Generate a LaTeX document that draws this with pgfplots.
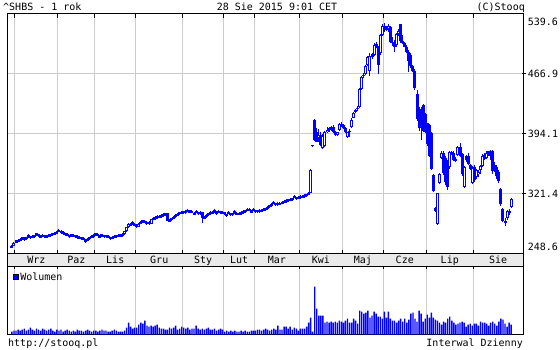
\documentclass[border=0pt]{standalone}
\usepackage{fontspec}
\setmainfont{DejaVu Sans Mono}
\usepackage{pgfplots}
\usepackage{pgfplotstable}
\pgfplotsset{compat=1.18}
\definecolor{gridgray}{RGB}{204,204,204}
\definecolor{stripgray}{RGB}{234,234,234}
\definecolor{cblue}{RGB}{0,0,255}
\newcommand{\ft}{\fontsize{10}{12}\selectfont}

\pgfplotstableread{
i o h l c
0 256.2 259.5 255.6 258.7
1 258.7 263.2 258.2 262.5
2 262.5 265.8 262.0 265.0
3 263.5 266.8 262.9 266.0
4 264.7 268.0 264.1 267.2
5 269.0 269.7 265.8 266.5
6 265.5 268.8 264.9 268.0
7 266.5 269.8 265.9 269.0
8 271.8 272.4 268.6 269.3
9 267.5 270.8 266.9 270.0
10 268.3 271.6 267.7 270.8
11 268.8 272.0 268.2 271.3
12 273.5 274.1 270.4 271.0
13 272.7 273.3 269.6 270.2
14 268.1 271.3 267.5 270.6
15 272.0 272.6 268.8 269.5
16 271.4 272.0 268.2 268.9
17 268.3 271.5 267.7 270.8
18 269.5 272.8 268.9 272.0
19 270.0 273.2 269.4 272.5
20 271.2 274.4 270.6 273.7
21 272.0 275.2 271.4 274.5
22 273.0 276.3 272.4 275.5
23 278.2 278.8 275.0 275.7
24 276.5 277.1 273.4 274.0
25 275.3 275.9 272.2 272.8
26 274.0 274.6 270.9 271.5
27 273.3 273.9 270.2 270.8
28 268.7 271.9 268.1 271.2
29 272.5 273.1 269.4 270.0
30 272.0 272.6 268.9 269.5
31 271.4 272.0 268.2 268.9
32 270.5 271.1 267.3 268.0
33 269.5 270.1 266.3 267.0
34 268.9 269.5 265.8 266.4
35 268.3 268.9 265.1 265.8
36 263.1 266.3 262.5 265.6
37 264.5 267.7 263.9 267.0
38 266.4 269.6 265.8 268.9
39 268.0 271.2 267.4 270.5
40 269.1 272.4 268.5 271.6
41 273.5 274.1 270.4 271.0
42 273.0 273.6 269.9 270.5
43 268.0 271.2 267.4 270.5
44 272.3 272.9 269.2 269.8
45 271.5 272.1 268.4 269.0
46 271.4 272.0 268.3 268.9
47 271.0 271.6 267.9 268.5
48 266.5 269.7 265.9 269.0
49 267.1 270.3 266.5 269.6
50 268.0 271.2 267.4 270.5
51 268.7 271.9 268.1 271.2
52 269.5 272.7 268.9 272.0
53 269.8 273.0 269.2 272.3
54 270.3 273.5 269.7 272.8
55 272.8 276.7 272.2 276.0
56 276.0 281.8 275.5 281.0
57 281.0 285.8 280.4 285.0
58 283.0 286.3 282.4 285.5
59 287.5 288.1 284.3 285.0
60 285.5 286.1 282.4 283.0
61 284.2 284.8 280.0 281.7
62 281.7 286.2 281.1 285.5
63 285.3 288.6 284.7 287.8
64 289.5 290.1 286.4 287.0
65 289.1 289.7 285.9 286.6
66 288.0 288.6 284.2 285.5
67 287.5 288.1 284.3 285.0
68 285.0 291.3 284.4 290.5
69 290.0 293.3 289.4 292.5
70 291.0 294.2 290.4 293.5
71 292.2 295.5 291.6 294.7
72 292.7 296.0 292.1 295.2
73 293.4 296.7 292.8 295.9
74 294.5 297.8 293.9 297.0
75 295.5 298.8 294.9 298.0
76 298.0 298.6 288.2 289.0
77 288.0 291.2 287.4 290.5
78 289.4 292.6 288.8 291.9
79 291.5 294.8 290.9 294.0
80 293.4 296.7 292.8 295.9
81 295.0 298.3 294.4 297.5
82 296.5 299.8 295.9 299.0
83 297.4 300.7 296.8 299.9
84 298.0 301.3 297.4 300.5
85 298.2 301.5 297.6 300.7
86 302.5 303.1 299.4 300.0
87 301.4 302.0 298.2 298.9
88 301.2 301.8 298.0 298.7
89 296.0 299.2 295.4 298.5
90 301.2 301.8 298.0 298.7
91 296.5 299.7 295.9 299.0
92 297.0 300.3 296.4 299.5
93 299.5 300.1 286.5 292.5
94 291.5 294.8 290.9 294.0
95 293.4 296.7 292.8 295.9
96 295.5 298.8 294.9 298.0
97 297.0 300.3 296.4 299.5
98 297.3 300.6 296.7 299.8
99 302.0 302.6 298.9 299.5
100 297.0 300.2 296.4 299.5
101 301.3 301.9 298.2 298.8
102 300.5 301.1 297.4 298.0
103 299.6 300.2 296.5 297.1
104 299.0 299.6 295.8 296.5
105 294.5 297.7 293.9 297.0
106 299.6 300.2 296.5 297.1
107 295.3 298.5 294.7 297.8
108 295.5 298.7 294.9 298.0
109 300.8 301.4 297.7 298.3
110 296.0 299.2 295.4 298.5
111 296.2 299.4 295.6 298.7
112 297.0 300.2 296.4 299.5
113 298.3 301.5 297.7 300.8
114 299.1 302.4 298.5 301.6
115 303.7 304.3 300.6 301.2
116 303.3 303.9 300.2 300.8
117 298.5 301.7 297.9 301.0
118 303.6 304.2 300.5 301.1
119 299.0 302.2 298.4 301.5
120 299.3 302.5 298.7 301.8
121 299.5 302.7 298.9 302.0
122 300.0 303.2 299.4 302.5
123 300.8 304.0 300.2 303.3
124 301.5 304.7 300.9 304.0
125 303.0 306.3 302.4 305.5
126 305.0 308.3 304.4 307.5
127 306.7 310.0 306.1 309.2
128 312.0 312.6 308.9 309.5
129 307.5 310.7 306.9 310.0
130 308.0 311.2 307.4 310.5
131 308.3 311.5 307.7 310.8
132 309.5 312.8 308.9 312.0
133 310.8 314.0 310.2 313.3
134 311.6 314.9 311.0 314.1
135 312.3 315.6 311.7 314.8
136 313.0 316.3 312.4 315.5
137 313.6 316.9 313.0 316.1
138 319.0 319.6 315.9 316.5
139 314.8 318.0 314.2 317.3
140 315.6 318.9 315.0 318.1
141 316.3 319.6 315.7 318.8
142 317.0 320.3 316.4 319.5
143 317.6 320.9 317.0 320.1
144 318.5 321.8 317.9 321.0
145 320.4 323.7 319.8 322.9
146 322.9 351.2 322.3 350.5
147 380.4 381.0 378.5 379.2
148 411.0 412.0 386.0 387.0
149 396.0 401.0 384.0 385.0
150 389.0 400.0 385.0 393.0
151 393.0 396.0 379.0 381.0
152 377.0 394.0 376.0 392.0
153 379.0 398.0 378.0 396.0
154 396.0 402.0 395.0 399.0
155 399.0 402.0 397.0 401.0
156 400.0 404.0 398.0 402.0
157 402.0 405.0 395.0 396.0
158 396.0 398.0 392.0 393.0
159 393.0 397.0 392.0 396.0
160 399.0 408.0 398.0 406.0
161 406.0 409.0 403.0 404.5
162 405.0 406.0 400.0 401.0
163 401.0 402.0 395.0 396.0
164 390.0 397.0 389.0 396.0
165 396.0 400.0 391.0 398.0
166 402.0 413.0 401.0 411.0
167 414.0 421.0 413.0 420.0
168 421.0 425.0 419.0 423.0
169 424.0 428.0 422.0 426.0
170 427.0 450.0 426.0 449.0
171 449.0 464.0 448.0 463.0
172 464.0 468.0 462.0 466.0
173 467.0 478.0 466.0 477.0
174 478.0 489.0 477.0 487.0
175 471.0 492.0 465.0 489.0
176 488.0 492.0 485.0 490.5
177 490.0 504.0 489.0 502.0
178 503.5 506.0 498.0 500.0
179 500.0 501.0 467.0 478.0
180 492.0 515.0 490.0 514.0
181 514.0 527.0 513.0 525.0
182 525.0 529.0 518.0 521.0
183 520.5 525.0 519.0 522.0
184 522.0 527.0 518.0 525.0
185 524.0 525.0 504.0 506.0
186 506.0 512.0 501.0 504.0
187 504.0 508.0 494.0 499.0
188 502.0 517.0 500.0 515.0
189 515.0 521.0 513.0 519.0
190 527.0 528.0 505.0 507.0
191 507.0 514.0 503.0 505.0
192 505.0 506.0 499.0 500.0
193 500.0 502.0 492.0 494.0
194 494.0 496.0 469.0 483.0
195 490.0 492.0 474.0 477.0
196 477.0 478.0 469.0 471.0
197 471.0 473.0 448.0 450.0
198 443.0 447.0 410.0 412.0
199 425.0 427.0 398.0 401.0
200 420.0 427.0 387.0 405.0
201 429.0 430.0 396.0 398.0
202 418.0 420.0 395.0 397.0
203 407.0 408.0 380.0 382.0
204 405.0 406.0 366.0 368.0
205 395.0 396.0 350.0 352.0
206 344.0 345.0 324.0 325.0
207 304.0 305.0 300.0 301.0
208 285.0 323.0 284.0 322.0
209 335.0 347.0 333.0 346.0
210 365.0 373.0 364.0 371.0
211 371.0 373.0 344.0 347.0
212 365.0 367.0 332.0 336.0
213 360.0 362.0 326.0 330.0
214 354.0 373.0 352.0 372.0
215 372.0 374.0 369.0 370.0
216 371.0 373.0 361.0 363.0
217 364.0 366.0 360.0 361.0
218 369.0 379.0 368.0 378.0
219 378.0 383.0 366.0 368.0
220 370.0 371.0 343.0 345.0
221 330.0 355.0 329.0 354.0
222 367.0 369.0 360.0 362.0
223 368.0 371.0 356.0 358.0
224 356.0 358.0 350.0 352.0
225 335.0 355.0 334.0 353.0
226 354.0 356.0 336.0 338.0
227 342.0 352.0 340.0 350.0
228 345.0 351.0 342.0 348.0
229 350.0 357.0 346.0 355.0
230 355.0 370.0 354.0 368.0
231 369.0 371.0 362.0 364.0
232 365.0 373.0 364.0 371.0
233 371.0 374.0 368.0 373.0
234 373.0 375.0 363.0 368.0
235 374.0 375.0 346.0 349.0
236 357.0 360.0 348.0 350.0
237 354.0 356.0 340.0 343.0
238 348.0 350.0 335.0 337.0
239 328.0 329.0 307.0 309.0
240 303.0 304.0 287.0 289.0
241 289.0 292.0 283.0 286.0
242 292.0 302.0 290.0 301.0
243 301.0 303.0 296.0 298.0
244 305.0 316.0 304.0 315.0
}\price

\pgfplotstableread[row sep=\\]{
v\\
3\\4\\
4\\5\\4\\5\\6\\4\\5\\7\\5\\4\\6\\5\\4\\6\\5\\4\\5\\6\\4\\3\\5\\
4\\5\\3\\4\\5\\4\\3\\4\\3\\5\\4\\4\\3\\4\\5\\4\\3\\4\\
4\\3\\4\\5\\4\\4\\3\\3\\4\\5\\4\\3\\3\\3\\4\\7\\12\\8\\6\\7\\
7\\10\\12\\11\\14\\9\\8\\9\\8\\9\\10\\7\\6\\6\\5\\5\\7\\6\\7\\9\\5\\6\\8\\
7\\6\\7\\5\\6\\6\\9\\6\\5\\6\\5\\6\\7\\5\\5\\6\\4\\5\\6\\5\\
3\\4\\3\\4\\3\\4\\3\\3\\4\\3\\4\\3\\3\\4\\4\\
4\\5\\5\\4\\5\\6\\5\\4\\5\\6\\5\\9\\5\\5\\8\\8\\6\\8\\5\\7\\6\\4\\
6\\6\\6\\8\\12\\17\\3\\48\\26\\19\\19\\19\\12\\13\\12\\13\\12\\13\\12\\14\\13\\
12\\14\\16\\12\\12\\16\\14\\11\\24\\23\\21\\22\\24\\17\\19\\23\\21\\18\\18\\16\\
23\\17\\23\\16\\14\\14\\12\\14\\16\\13\\16\\12\\15\\21\\22\\16\\13\\24\\21\\13\\16\\
20\\17\\22\\17\\15\\14\\12\\10\\13\\12\\16\\18\\14\\12\\10\\11\\12\\13\\12\\8\\10\\11\\9\\
11\\11\\9\\13\\12\\12\\11\\9\\12\\13\\11\\9\\13\\16\\15\\11\\8\\12\\10\\
}\volume

\begin{document}
\begin{tikzpicture}
\useasboundingbox (0,0) rectangle (560pt,350pt);
\fill[white] (0,0) rectangle (560pt,350pt);
% month strip
\draw[line width=1pt, fill=stripgray] (7.5pt,83.5pt) rectangle (523pt,96pt);

\pgfplotsset{
  common/.style={
    scale only axis, anchor=south west, width=515.5pt,
    xmin=-2.165, xmax=249.79,
    axis line style={line width=1pt, black},
    xtick={1.5,22.5,40.5,60.5,83.5,103.5,118.5,140.5,161.5,181.5,202.5,225.5},
    xticklabels={},
    xmajorgrids,
    grid style={gridgray, line width=1pt},
    tick align=inside,
    xtick style={black, line width=1pt},
    ticklabel style={font=\ft},
  }
}

\begin{axis}[common,
  at={(7.5pt,96pt)}, height=240pt,
  ymin=248.6, ymax=539.6,
  major tick length=4pt,
  extra x ticks={12,31.5,50.5,72,93.5,111,129.5,151,171.5,192,214,237.65},
  extra x tick labels={Wrz,Paz,Lis,Gru,Sty,Lut,Mar,Kwi,Maj,Cze,Lip,Sie},
  extra x tick style={xmajorgrids=false, major tick length=0pt,
    xticklabel style={anchor=base, yshift=-10pt}},
  ymajorgrids,
  ytick={321.4,394.1,466.9},
  yticklabels={321.4,394.1,466.9},
  ytick pos=right,
  yticklabel pos=right,
  ytick style={black, line width=1pt, xshift=3pt},
  yticklabel style={anchor=west, xshift=1.4pt},
]
% wicks
\addplot[forget plot, cblue, draw=none, mark=none,
  error bars/.cd, y dir=plus, y explicit, error mark=none,
  error bar style={draw=cblue, line width=1pt, solid}]
  table[x=i, y=l, y error expr=\thisrow{h}-\thisrow{l}] {\price};
% bodies
\addplot[forget plot, cblue, draw=none, mark=none,
  error bars/.cd, y dir=plus, y explicit, error mark=none,
  error bar style={draw=cblue, line width=3pt, solid}]
  table[x=i, y expr={min(\thisrow{o},\thisrow{c})},
        y error expr={abs(\thisrow{c}-\thisrow{o})}] {\price};
% hollow (rising) candles
\addplot[forget plot, draw=none, mark=none, unbounded coords=discard,
  error bars/.cd, y dir=plus, y explicit, error mark=none,
  error bar style={draw=white, line width=1pt, solid}]
  table[x=i, y expr={(\thisrow{c}-\thisrow{o}>2.6) ? (\thisrow{o}+1.2) : nan},
        y error expr={\thisrow{c}-\thisrow{o}-2.4}] {\price};
\end{axis}

\begin{axis}[common,
  at={(7.5pt,15.3pt)}, height=68.2pt,
  ymin=0, ymax=68.2,
  xtick pos=right,
  major tick length=3pt,
  ytick=\empty,
  legend style={at={(axis description cs:0,1)}, anchor=north west,
    draw=none, fill=none, xshift=4pt, yshift=-3pt, font=\ft,
    inner sep=1pt, cells={anchor=west}},
  legend image code/.code={\draw[fill=cblue, draw=black, line width=0.6pt] (0pt,-2.5pt) rectangle (5pt,2.5pt);},
]
\addplot[ybar, bar width=1.4pt, fill=cblue, draw=none, mark=none] table[x expr=\coordindex, y=v] {\volume};
\addlegendentry{Wolumen}
\end{axis}

% texts
\node[anchor=base west, inner sep=0pt, font=\ft] at (3pt,339pt) {\textasciicircum SHBS - 1 rok};
\node[anchor=base, inner sep=0pt, font=\ft] at (277pt,339pt) {28 Sie 2015 9:01 CET};
\node[anchor=base east, inner sep=0pt, font=\ft] at (525pt,339pt) {(C)Stooq};
\node[anchor=base west, inner sep=0pt, font=\ft] at (527.7pt,324pt) {539.6};
\node[anchor=base west, inner sep=0pt, font=\ft] at (527.7pt,99pt) {248.6};
\node[anchor=base west, inner sep=0pt, font=\ft] at (8pt,3.5pt) {http://stooq.pl};
\node[anchor=base east, inner sep=0pt, font=\ft] at (523pt,3.5pt) {Interwal Dzienny};
\end{tikzpicture}
\end{document}
